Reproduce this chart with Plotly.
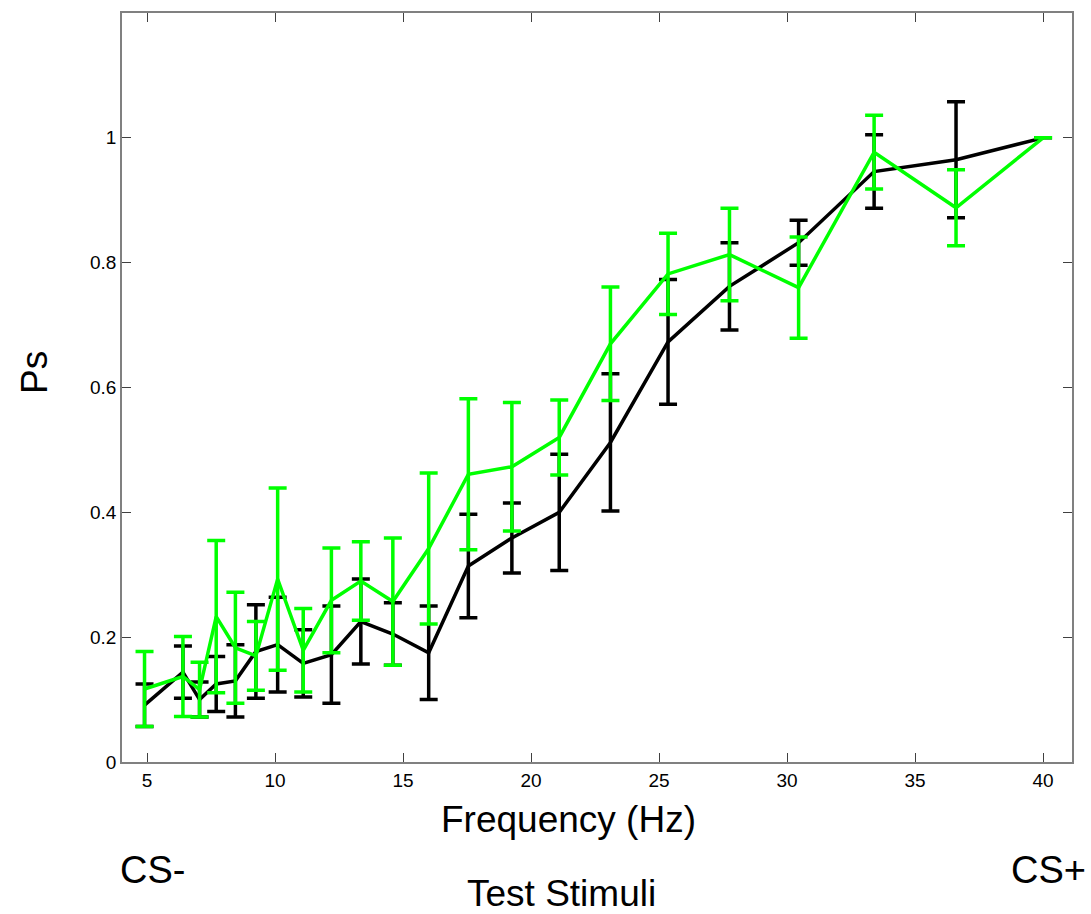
import plotly.graph_objects as go

# Test stimulus frequencies (Hz)
freq = [4.9, 6.4, 7.05, 7.7, 8.45, 9.25, 10.1, 11.1, 12.2, 13.35, 14.6, 16.0,
        17.55, 19.25, 21.1, 23.1, 25.35, 27.75, 30.45, 33.4, 36.6, 40.0]

# Black series
black_mean = [0.091, 0.144, 0.100, 0.125, 0.130, 0.177, 0.188, 0.158, 0.172, 0.225, 0.205, 0.175,
              0.314, 0.359, 0.400, 0.512, 0.673, 0.762, 0.832, 0.946, 0.965, 1.0]
black_err = [0.034, 0.042, 0.028, 0.044, 0.058, 0.075, 0.076, 0.054, 0.078, 0.068, 0.050, 0.075,
             0.083, 0.056, 0.093, 0.110, 0.100, 0.070, 0.036, 0.059, 0.093, 0.0]

# Green series
green_mean = [0.117, 0.137, 0.116, 0.233, 0.183, 0.170, 0.293, 0.179, 0.259, 0.290, 0.257, 0.342,
              0.461, 0.473, 0.520, 0.670, 0.782, 0.813, 0.760, 0.977, 0.888, 1.0]
green_err = [0.060, 0.064, 0.044, 0.122, 0.089, 0.055, 0.146, 0.067, 0.084, 0.063, 0.102, 0.121,
             0.121, 0.103, 0.060, 0.091, 0.065, 0.074, 0.081, 0.059, 0.061, 0.0]

x_ticks = [5, 10, 15, 20, 25, 30, 35, 40]
y_ticks = [0, 0.2, 0.4, 0.6, 0.8, 1]
y_tick_labels = ["0", "0.2", "0.4", "0.6", "0.8", "1"]

FONT = "Liberation Sans, Arial, sans-serif"

fig = go.Figure()
fig.add_trace(go.Scatter(
    x=freq, y=black_mean, mode="lines",
    line=dict(color="#000000", width=3.5),
    error_y=dict(type="data", array=black_err, visible=True,
                 color="#000000", thickness=3.5, width=9),
    showlegend=False))
fig.add_trace(go.Scatter(
    x=freq, y=green_mean, mode="lines",
    line=dict(color="#00FF00", width=3.5),
    error_y=dict(type="data", array=green_err, visible=True,
                 color="#00FF00", thickness=3.5, width=9),
    showlegend=False))

axis_common = dict(showline=True, linecolor="#808080", linewidth=1.5, mirror="ticks",
                   ticks="inside", ticklen=9, tickcolor="#404040", tickwidth=1,
                   showgrid=False, zeroline=False,
                   tickfont=dict(family=FONT, size=19, color="#000000"))

fig.update_xaxes(range=[4.02, 41.13], tickvals=x_ticks, ticktext=[str(t) for t in x_ticks],
                 **axis_common)
fig.update_yaxes(range=[0, 1.2], tickvals=y_ticks, ticktext=y_tick_labels, **axis_common)

anns = [
    dict(text="Frequency (Hz)", x=0.4695, y=-0.0774, size=37, xanchor="center", angle=0),
    dict(text="Test Stimuli", x=0.463, y=-0.175, size=37, xanchor="center", angle=0),
    dict(text="CS-", x=-0.0042, y=-0.144, size=38, xanchor="left", angle=0),
    dict(text="CS+", x=1.0168, y=-0.144, size=38, xanchor="right", angle=0),
    dict(text="Ps", x=-0.0916, y=0.5207, size=37, xanchor="center", angle=-90),
]
for a in anns:
    fig.add_annotation(text=a["text"], x=a["x"], y=a["y"], xref="paper", yref="paper",
                       xanchor=a["xanchor"], yanchor="middle", showarrow=False,
                       textangle=a["angle"],
                       font=dict(family=FONT, size=a["size"], color="#000000"))

fig.update_layout(width=1091, height=914, paper_bgcolor="white", plot_bgcolor="white",
                  margin=dict(l=122, r=19, t=13, b=152))

fig.write_html("out.html")
